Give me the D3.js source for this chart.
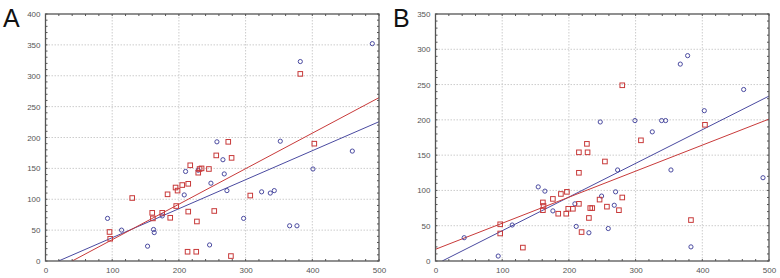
<!DOCTYPE html>
<html>
<head>
<meta charset="utf-8">
<script src="https://d3js.org/d3.v7.min.js"></script>
<style>
  body { margin: 0; background: #fff; }
  svg { display: block; font-family: Arial, "Liberation Sans", sans-serif; }
</style>
</head>
<body>
<svg width="780" height="278"></svg>
<script>
// ---- panel A ----
var blueA = [[93,69],[114,50],[153,24],[162,51],[163,46],[175,73],[208,107],[210,145],[229,147],[246,26],
  [248,126],[257,193],[266,164],[268,141],[272,114],[297,69],[324,112],[337,110],[343,114],[352,194],
  [366,57],[377,57],[382,323],[401,149],[460,178],[490,352]];
var redA = [[96,47],[97,36],[130,102],[160,78],[161,69],[175,78],[183,108],[187,70],[195,119],[196,89],
  [198,114],[205,123],[213,15],[214,125],[214,80],[217,155],[226,15],[227,64],[229,143],[231,149],
  [234,150],[245,149],[253,81],[256,171],[274,193],[278,8],[279,167],[307,106],[382,303],[403,190]];
var fitBlueA = [0.4695, -9.2];   // slope, intercept
var fitRedA = [0.575, -23];

// ---- panel B ----
var blueB = [[43,33],[94,7],[115,51],[154,105],[164,99],[176,71],[209,81],[211,49],[230,40],[247,197],
  [249,92],[259,46],[268,79],[270,98],[273,129],[299,199],[325,183],[339,199],[345,199],[353,129],
  [367,279],[378,291],[383,20],[403,213],[462,243],[491,118]];
var redB = [[97,52],[97,39],[131,19],[161,83],[162,78],[161,72],[176,88],[184,67],[188,95],[196,67],
  [197,98],[199,74],[206,74],[215,81],[215,154],[215,125],[219,41],[227,166],[228,154],[230,61],
  [232,75],[235,75],[246,87],[254,141],[257,77],[275,72],[280,90],[280,249],[308,171],[383,58],[404,193]];
var fitBlueB = [0.477, -4.8];
var fitRedB = [0.369, 16.6];

var xTicks = [0, 100, 200, 300, 400, 500];
var yTicksA = [0, 50, 100, 150, 200, 250, 300, 350, 400];
var yTicksB = [0, 50, 100, 150, 200, 250, 300, 350];

var blue = "#4a4aa0", red = "#c83a3a";
var svg = d3.select("svg");

function panel(opt) {
  var x = d3.scaleLinear().domain([0, 500]).range([opt.left, opt.right]);
  var y = d3.scaleLinear().domain([0, opt.ymax]).range([261, 14]);
  var g = svg.append("g");
  var clipId = "clip" + opt.label;

  g.append("clipPath").attr("id", clipId).append("rect")
    .attr("x", opt.left).attr("y", 14).attr("width", opt.right - opt.left).attr("height", 247);

  // grid
  g.append("g").selectAll("line").data(xTicks.slice(1, -1)).enter().append("line")
    .attr("x1", x).attr("x2", x).attr("y1", 14).attr("y2", 261)
    .attr("stroke", "#ccc").attr("stroke-dasharray", "1.5,1.5");
  g.append("g").selectAll("line").data(opt.yTicks.slice(1, -1)).enter().append("line")
    .attr("y1", y).attr("y2", y).attr("x1", opt.left).attr("x2", opt.right)
    .attr("stroke", "#ccc").attr("stroke-dasharray", "1.5,1.5");

  // axes
  var xa = g.append("g").attr("transform", "translate(0,261)")
    .call(d3.axisBottom(x).tickValues(xTicks).tickSize(0).tickPadding(6));
  var ya = g.append("g").attr("transform", "translate(" + opt.left + ",0)")
    .call(d3.axisLeft(y).tickValues(opt.yTicks).tickSize(0).tickPadding(5));
  [xa, ya].forEach(function(a) {
    a.select(".domain").remove();
    a.selectAll("text").attr("fill", "#555").style("font-size", "8px");
  });

  // minor ticks (inside frame)
  var minorX = d3.range(0, 501, 20), minorY = d3.range(0, opt.ymax + 1, 10);
  var mt = g.append("g").attr("stroke", "#555").attr("stroke-width", 1);
  mt.selectAll(".tt").data(minorX).enter().append("line")
    .attr("x1", x).attr("x2", x).attr("y1", 14).attr("y2", 16);
  mt.selectAll(".tb").data(minorX).enter().append("line")
    .attr("x1", x).attr("x2", x).attr("y1", 261).attr("y2", 259);
  mt.selectAll(".tl").data(minorY).enter().append("line")
    .attr("y1", y).attr("y2", y).attr("x1", opt.left).attr("x2", opt.left + 2);
  mt.selectAll(".tr").data(minorY).enter().append("line")
    .attr("y1", y).attr("y2", y).attr("x1", opt.right).attr("x2", opt.right - 2);

  // regression lines
  var lineG = g.append("g").attr("clip-path", "url(#" + clipId + ")");
  [[opt.fitBlue, blue], [opt.fitRed, red]].forEach(function(f) {
    var a = f[0][0], b = f[0][1];
    var x0 = Math.max(0, -b / a);
    lineG.append("line")
      .attr("x1", x(x0)).attr("y1", y(a * x0 + b))
      .attr("x2", x(500)).attr("y2", y(a * 500 + b))
      .attr("stroke", f[1]).attr("stroke-width", 1);
  });

  // points
  g.append("g").selectAll("circle").data(opt.blue).enter().append("circle")
    .attr("cx", function(d) { return x(d[0]); })
    .attr("cy", function(d) { return y(d[1]); })
    .attr("r", 2.1).attr("fill", "none").attr("stroke", blue).attr("stroke-width", 1);
  g.append("g").selectAll("rect").data(opt.red).enter().append("rect")
    .attr("x", function(d) { return x(d[0]) - 2.3; })
    .attr("y", function(d) { return y(d[1]) - 2.3; })
    .attr("width", 4.6).attr("height", 4.6)
    .attr("fill", "none").attr("stroke", red).attr("stroke-width", 1);

  // frame
  g.append("rect").attr("x", opt.left).attr("y", 14)
    .attr("width", opt.right - opt.left).attr("height", 247)
    .attr("fill", "none").attr("stroke", "#555").attr("stroke-width", 1.3);

  svg.append("text").attr("x", opt.labelX).attr("y", 27)
    .style("font-size", "25px").attr("fill", "#111").text(opt.label);
}

panel({ label: "A", labelX: 3, left: 45.5, right: 379, ymax: 400, yTicks: yTicksA,
  blue: blueA, red: redA, fitBlue: fitBlueA, fitRed: fitRedA });
panel({ label: "B", labelX: 393, left: 435.5, right: 769, ymax: 350, yTicks: yTicksB,
  blue: blueB, red: redB, fitBlue: fitBlueB, fitRed: fitRedB });
</script>
</body>
</html>
